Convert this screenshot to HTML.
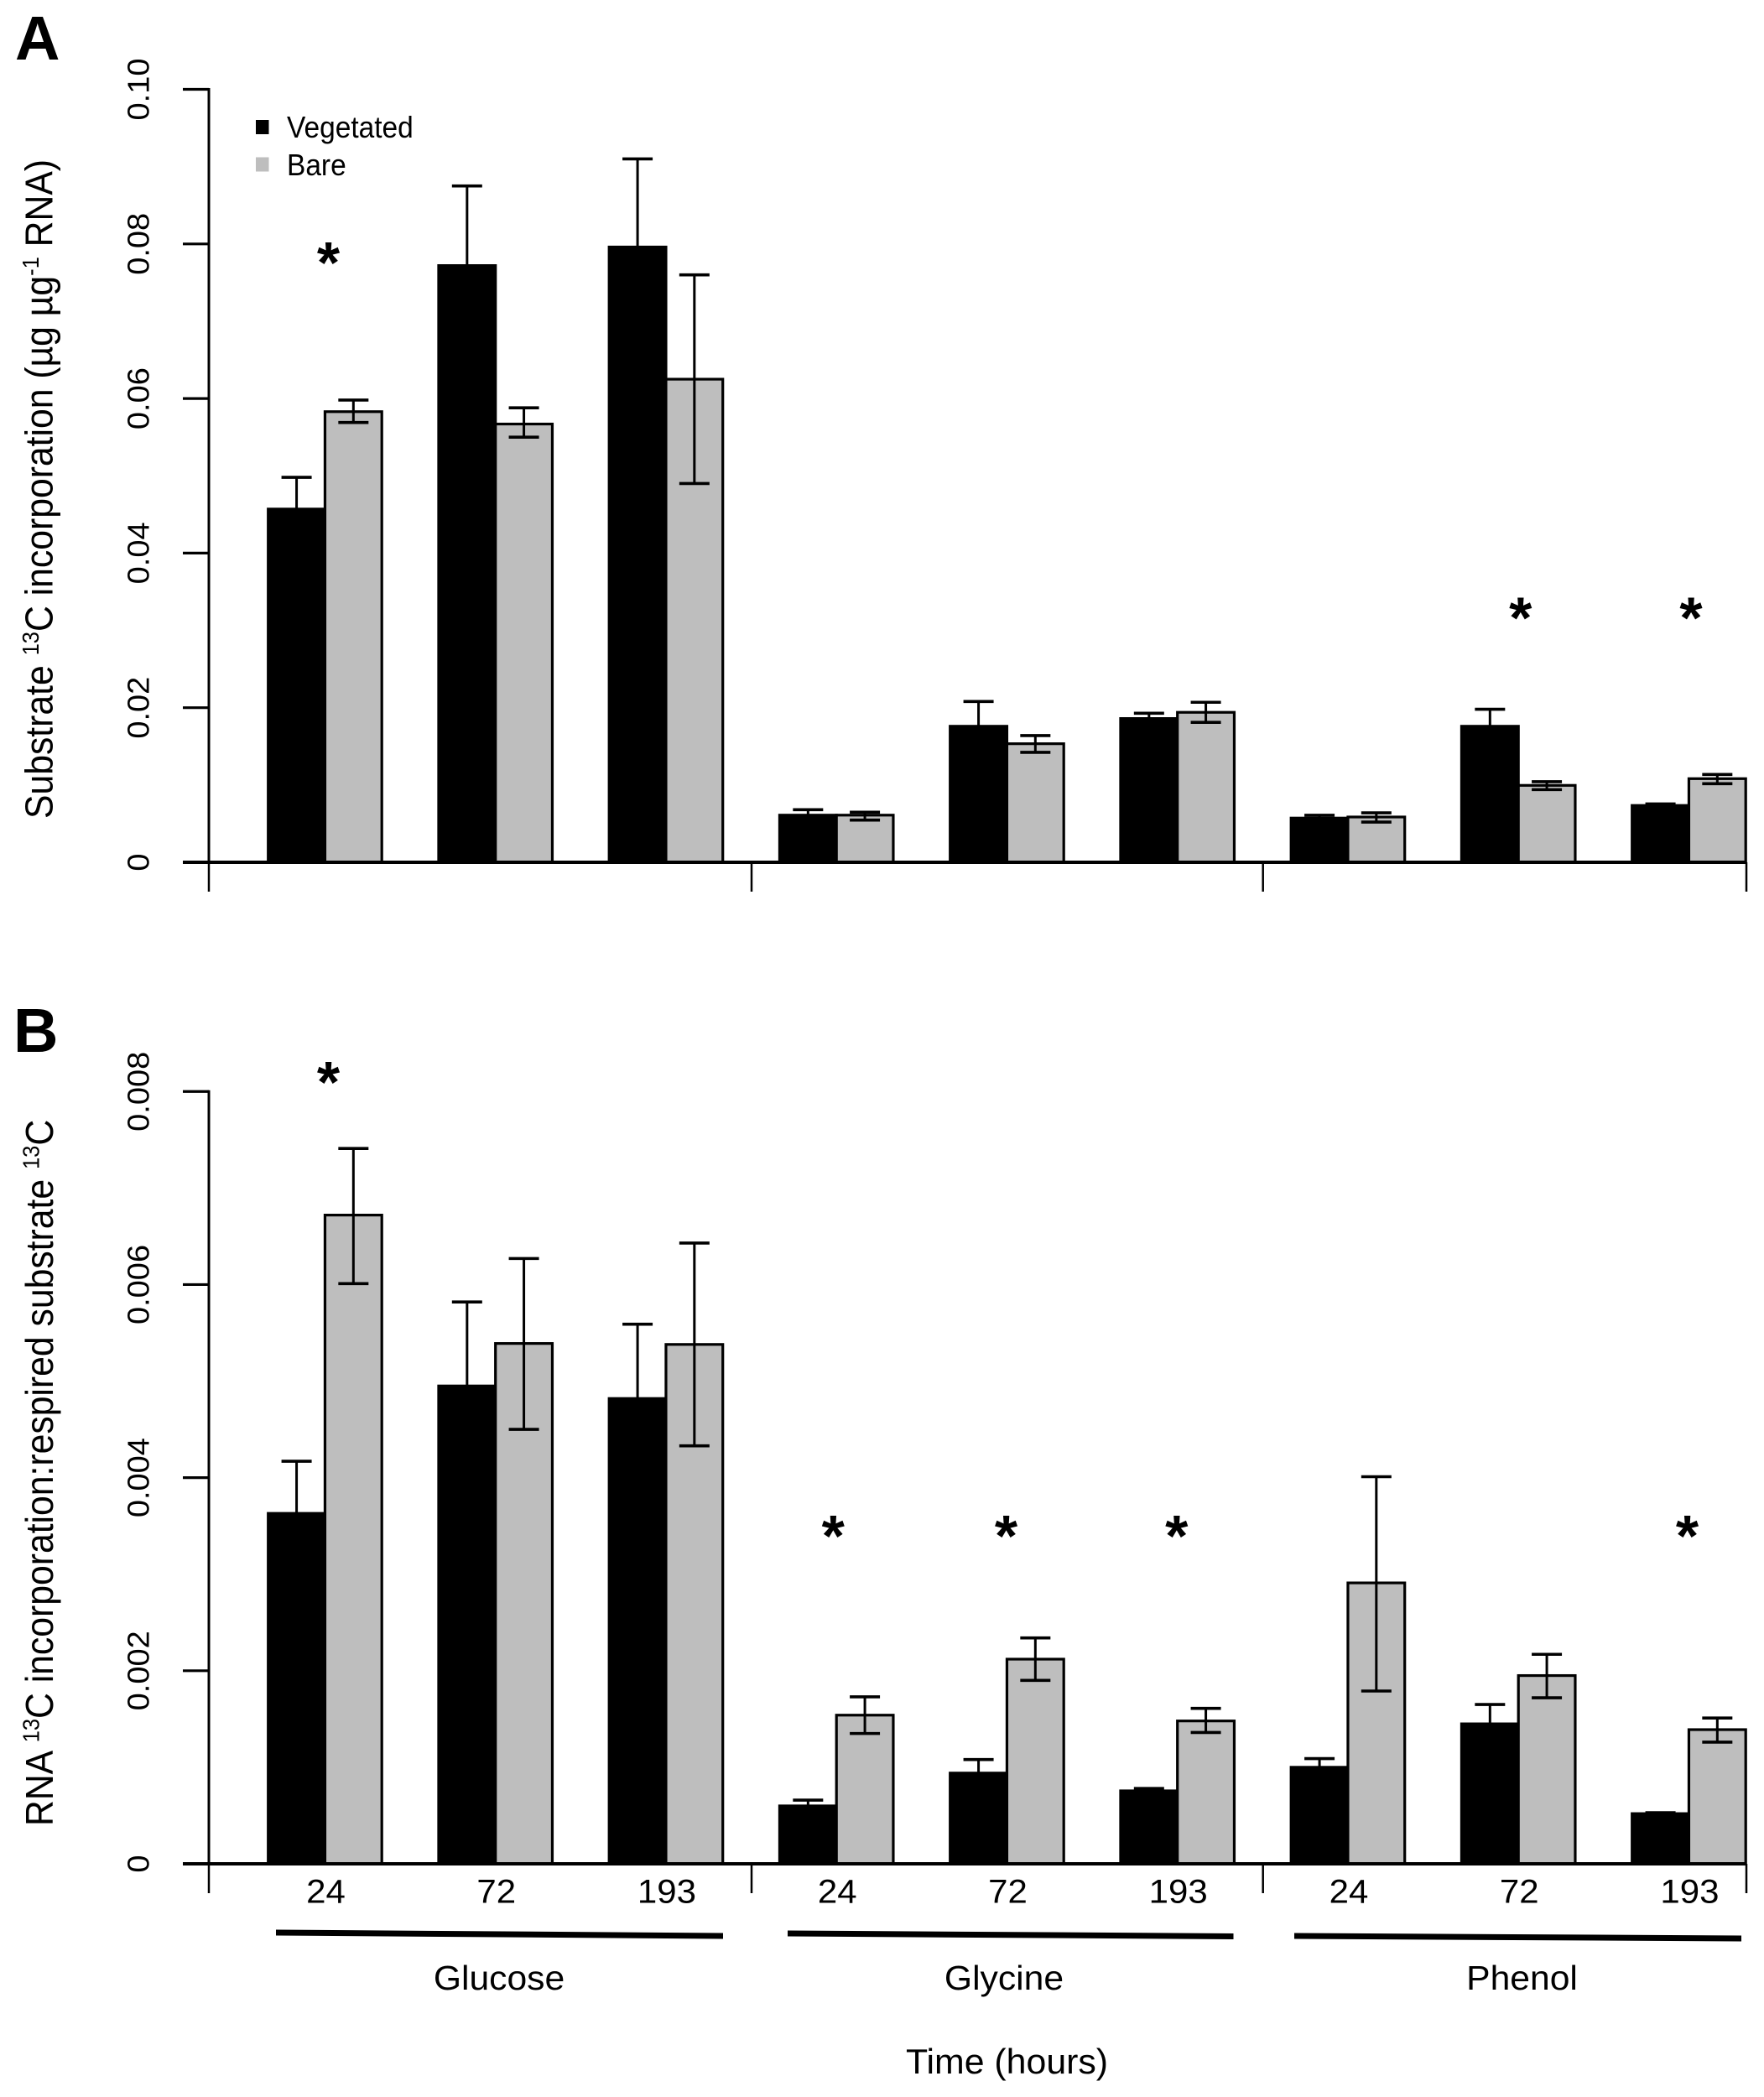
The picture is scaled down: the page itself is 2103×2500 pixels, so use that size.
<!DOCTYPE html>
<html lang="en">
<head>
<meta charset="utf-8">
<title>Substrate 13C incorporation chart</title>
<style>
html,body{margin:0;padding:0;background:#fff;width:2103px;height:2500px;overflow:hidden}
svg{display:block}
text{font-family:"Liberation Sans",Arial,sans-serif;fill:#000}
</style>
</head>
<body>
<svg id="chart" xmlns="http://www.w3.org/2000/svg" width="2103" height="2500" viewBox="0 0 2103 2500">
  <rect width="2103" height="2500" fill="#fff"/>
  <text x="18" y="71" font-size="74" font-weight="bold">A</text>
  <text x="16" y="1254" font-size="74" font-weight="bold">B</text>

  <text transform="translate(62.5,976) rotate(-90) scale(1,1.09)" font-size="42.7">Substrate <tspan font-size="25.5" dy="-15">13</tspan><tspan dy="15">C incorporation (µg µg</tspan><tspan font-size="25.5" dy="-15">-1</tspan><tspan dy="15"> RNA)</tspan></text>
  <text transform="translate(63,2177) rotate(-90) scale(1,1.09)" font-size="42.7">RNA <tspan font-size="25.5" dy="-15">13</tspan><tspan dy="15">C incorporation:respired substrate </tspan><tspan font-size="25.5" dy="-15">13</tspan><tspan dy="15">C</tspan></text>

  <g>
    <rect x="305" y="143" width="15.5" height="17" fill="#000"/>
    <text transform="translate(342,164) scale(.93,1)" font-size="36">Vegetated</text>
    <rect x="305" y="187.5" width="15.5" height="17" fill="#bebebe"/>
    <text transform="translate(342,209) scale(.93,1)" font-size="36">Bare</text>
  </g>

  <g>
    <polygon points="329,2300.5 862,2304.5 862,2311.5 329,2307.5" fill="#000"/>
    <polygon points="939,2301.5 1470.5,2305 1470.5,2312 939,2308.5" fill="#000"/>
    <polygon points="1543,2304.5 2076,2307.5 2076,2314.5 1543,2311.5" fill="#000"/>
  </g>
  <text transform="translate(595,2372) scale(1.04,1)" font-size="41" text-anchor="middle">Glucose</text>
  <text transform="translate(1197,2372) scale(1.04,1)" font-size="41" text-anchor="middle">Glycine</text>
  <text transform="translate(1814.5,2372) scale(1.04,1)" font-size="41" text-anchor="middle">Phenol</text>
  <text transform="translate(1200.5,2472) scale(1.02,1)" font-size="42" text-anchor="middle">Time (hours)</text>
</svg>
<script>
// Categories
var timeLabels = ['24','72','193','24','72','193','24','72','193'];
var groupNames = ['glucose-24','glucose-72','glucose-193','glycine-24','glycine-72','glycine-193','phenol-24','phenol-72','phenol-193'];

// Panel A values
var aVegetated      = [0.0457,0.0772,0.0796,0.0061,0.0176,0.0186,0.00572,0.0176,0.00735];
var aVegetatedUpper = [0.0498,0.0875,0.0910,0.0068,0.0208,0.01928,0.00608,0.0198,0.00755];
var aBare           = [0.0583,0.0567,0.0625,0.0061,0.01534,0.0194,0.00586,0.00995,0.01082];
var aBareUpper      = [0.0598,0.0588,0.0760,0.00648,0.01639,0.0207,0.0064,0.01042,0.01136];
var aBareLower      = [0.0569,0.0550,0.0490,0.00546,0.01422,0.0181,0.0052,0.0094,0.01017];
var aTickValues     = [0,0.02,0.04,0.06,0.08,0.10];
var aTickLabels     = ['0','0.02','0.04','0.06','0.08','0.10'];
var aStarGroups     = [0,7,8];
var aStarLevels     = [0.075,0.02903,0.02903];

// Panel B values
var bVegetated      = [0.00363,0.00495,0.00482,0.0006,0.00094,0.000756,0.001,0.00145,0.00052];
var bVegetatedUpper = [0.00417,0.00582,0.00559,0.00066,0.00108,0.00078,0.00109,0.00165,0.00053];
var bBare           = [0.00672,0.00539,0.00538,0.00154,0.00212,0.00148,0.00291,0.00195,0.00139];
var bBareUpper      = [0.00741,0.00627,0.00643,0.00173,0.00234,0.00161,0.00401,0.00217,0.00151];
var bBareLower      = [0.00601,0.0045,0.00433,0.00135,0.0019,0.00136,0.00179,0.00172,0.00126];
var bTickValues     = [0,0.002,0.004,0.006,0.008];
var bTickLabels     = ['0','0.002','0.004','0.006','0.008'];
var bStarGroups     = [0,3,4,5,8];
var bStarLevels     = [0.00789,0.00319,0.00319,0.00319,0.00319];

var NS = 'http://www.w3.org/2000/svg';
var svg = document.getElementById('chart');
var X0 = 319.7, BAR = 67.75, PERIOD = 203.25;
var AXIS_X = 249, TICK_X = 218, RIGHT = 2082;
var SEPARATORS = [249, 896, 1505.7, 2082];

function make(tag, attrs, parent) {
  var el = document.createElementNS(NS, tag);
  for (var k in attrs) { el.setAttribute(k, attrs[k]); }
  parent.appendChild(el);
  return el;
}
function xVeg(i) { return X0 + PERIOD * i; }
function xBare(i) { return xVeg(i) + BAR; }

function drawLine(parent, x1, y1, x2, y2, w, name) {
  var el = make('line', {x1:x1, y1:y1, x2:x2, y2:y2, stroke:'#000', 'stroke-width':w}, parent);
  
  
  return el;
}

function drawPanel(p, yBottom, yUnit, vegetated, vegetatedUpper, bare, bareUpper, bareLower, tickValues, tickLabels, starGroups, starLevels, starNudge) {
  function y(v) { return yBottom - v * yUnit; }
  var g = make('g', {}, svg);
  
  

  var i;
  for (i = 0; i < vegetated.length; i++) {
    var vb = make('rect', {x:xVeg(i), y:y(vegetated[i]), width:BAR, height:y(0) - y(vegetated[i]), fill:'#000', stroke:'#000', 'stroke-width':3.2}, g);
    
    
    var bb = make('rect', {x:xBare(i), y:y(bare[i]), width:BAR, height:y(0) - y(bare[i]), fill:'#bebebe', stroke:'#000', 'stroke-width':3.2}, g);
    
    
  }
  for (i = 0; i < vegetated.length; i++) {
    var cv = xVeg(i) + BAR / 2, cb = xBare(i) + BAR / 2, cap = 18;
    drawLine(g, cv, y(vegetated[i]), cv, y(vegetatedUpper[i]), 3, 'error-stem-vegetated-' + groupNames[i]);
    drawLine(g, cv - cap, y(vegetatedUpper[i]), cv + cap, y(vegetatedUpper[i]), 3.6, 'error-cap-vegetated-' + groupNames[i]);
    drawLine(g, cb, y(bareLower[i]), cb, y(bareUpper[i]), 3, 'error-stem-bare-' + groupNames[i]);
    drawLine(g, cb - cap, y(bareUpper[i]), cb + cap, y(bareUpper[i]), 3.6, 'error-cap-upper-bare-' + groupNames[i]);
    drawLine(g, cb - cap, y(bareLower[i]), cb + cap, y(bareLower[i]), 3.6, 'error-cap-lower-bare-' + groupNames[i]);
  }

  // y axis
  drawLine(g, AXIS_X, y(tickValues[tickValues.length - 1]) - 1.5, AXIS_X, y(0), 3, 'y-axis-line');
  for (i = 0; i < tickValues.length; i++) {
    drawLine(g, TICK_X, y(tickValues[i]), AXIS_X, y(tickValues[i]), 3.2, 'y-tick-' + tickLabels[i]);
    var t = make('text', {transform:'translate(177.5,' + y(tickValues[i]) + ') rotate(-90) scale(1,.96)', 'font-size':38, 'text-anchor':'middle'}, g);
    t.textContent = tickLabels[i];
    
    
  }
  // x axis
  drawLine(g, TICK_X, y(0), RIGHT, y(0), 4, 'x-axis-line');
  for (i = 0; i < SEPARATORS.length; i++) {
    drawLine(g, SEPARATORS[i], y(0), SEPARATORS[i], y(0) + 35, 2.5, 'x-separator-tick-' + i);
  }
  // significance stars, centred between the two bars of a group
  for (i = 0; i < starGroups.length; i++) {
    var s = make('text', {x:xBare(starGroups[i]) + 1 + starNudge[i], y:y(starLevels[i]), 'font-size':70, 'font-weight':'bold', 'text-anchor':'middle'}, g);
    s.textContent = '*';
    
    
  }
}

drawPanel('a', 1028, 9215, aVegetated, aVegetatedUpper, aBare, aBareUpper, aBareLower, aTickValues, aTickLabels, aStarGroups, aStarLevels, [3,1.5,1.5]);
drawPanel('b', 2222, 115090, bVegetated, bVegetatedUpper, bBare, bBareUpper, bBareLower, bTickValues, bTickLabels, bStarGroups, bStarLevels, [3,-5,-2,-2,-3]);

// Time labels
for (var j = 0; j < timeLabels.length; j++) {
  var tl = make('text', {transform:'translate(' + (xBare(j) + 1) + ',2268.5) scale(1.05,1)', 'font-size':40, 'text-anchor':'middle'}, svg);
  tl.textContent = timeLabels[j];
  
  
}
</script>
</body>
</html>
